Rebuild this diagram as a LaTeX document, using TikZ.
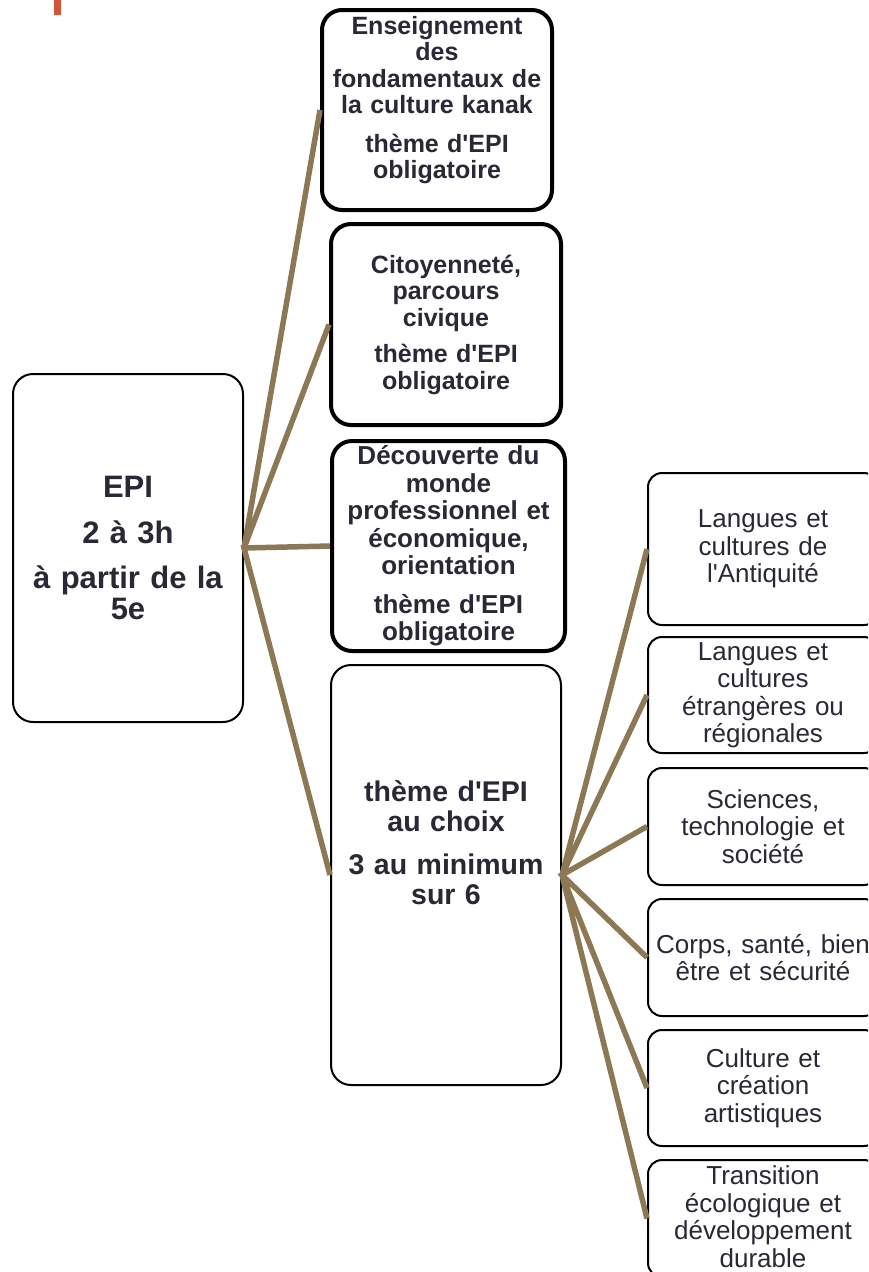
\documentclass[tikz,border=0pt]{standalone}
\usepackage{fontspec}
\setmainfont{Liberation Sans}[Ligatures=TeXOff]
\usepackage{tikz}
\usepackage{xcolor}
\usetikzlibrary{positioning}
\definecolor{epitext}{RGB}{40,40,54}
\definecolor{epiline}{RGB}{140,120,84}
\definecolor{epired}{RGB}{210,85,58}

\begin{document}
\begin{tikzpicture}[x=1pt, y=-1pt,
        box/.style={draw=black, fill=white, rounded corners=20pt, line width=2pt, text=epitext,
            align=center, text width=222pt, inner xsep=4pt, inner ysep=0pt, minimum width=230pt},
        thickbox/.style={box, line width=4pt, font=\bfseries\fontsize{25}{26.5}\selectfont},
        subbox/.style={box, rounded corners=14pt, font=\fontsize{26}{27.5}\selectfont},
        conn/.style={epiline, line width=5.5pt}]
                        \clip (0,0) rectangle (868,1272);
                        \fill[epired] (54,0) rectangle (61,15);
                        \node[box, minimum height=348pt, font=\bfseries\fontsize{31}{31.5}\selectfont] (epi) at (128,548)
                            {EPI\\[15pt]2 à 3h\\[13pt]à partir de la\\5e};
                        \node[thickbox, minimum height=200pt] (kanak) at (437,110)
                            {Enseignement\\des\\fondamentaux de\\la culture kanak\\[12pt]thème d'EPI\\obligatoire\\[-1pt]\mbox{}};
                        \node[thickbox, minimum height=201pt] (civic) at (446,324.5)
                            {Citoyenneté,\\parcours\\civique\\[10pt]thème d'EPI\\obligatoire};
                        \node[thickbox, minimum width=233pt, minimum height=210pt, font=\bfseries\fontsize{26}{27.5}\selectfont] (monde) at (448.5,546)
                            {Découverte du\\monde\\professionnel et\\économique,\\orientation\\[11pt]thème d'EPI\\obligatoire};
                        \node[box, minimum height=420pt, font=\bfseries\fontsize{28.5}{30}\selectfont] (choix) at (446,875)
                            {thème d'EPI\\au choix\\[13pt]3 au minimum\\sur 6\\[34pt]\mbox{}};
                        \node[subbox, minimum height=152pt] (antiq) at (763,549) {Langues et\\cultures de\\l'Antiquité};
                        \node[subbox, minimum height=116pt] (langreg) at (763,695) {Langues et\\cultures\\étrangères ou\\régionales};
                        \node[subbox, minimum height=117pt] (sciences) at (763,826.5) {Sciences,\\technologie et\\société};
                        \node[subbox, minimum height=117pt] (corps) at (763,957.5) {Corps, santé, bien\\être et sécurité};
                        \node[subbox, minimum height=116pt] (creation) at (763,1088) {Culture et\\création\\artistiques};
                        \node[subbox, minimum height=117pt] (durable) at (763,1218.5) {Transition\\écologique et\\développement\\durable\\[-24pt]\mbox{}};
                        \draw[conn]
                        (kanak.west) -- (epi.east) -- (civic.west) (monde.west) -- (epi.east) -- (choix.west);
                        \draw[conn]
                        (antiq.west) -- (choix.east) -- (langreg.west) (sciences.west) -- (choix.east) -- (corps.west)
                        (creation.west) -- (choix.east) -- (durable.west);
                    \end{tikzpicture}
\end{document}
